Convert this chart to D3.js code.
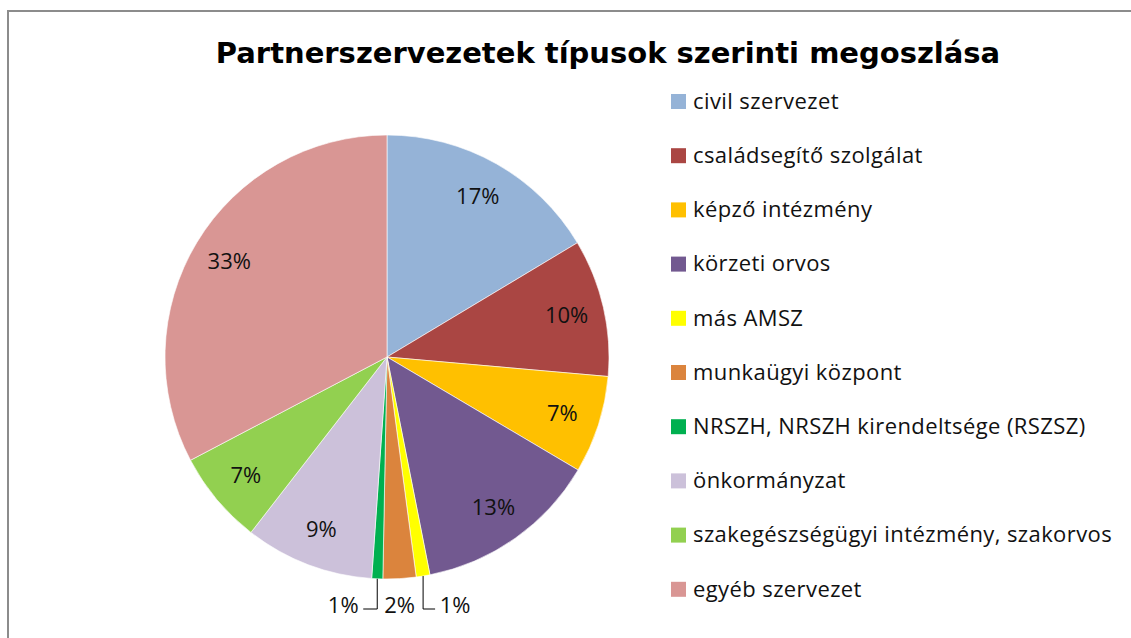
<!DOCTYPE html>
<html>
  <head>
    <meta charset="utf-8" />
    <title>Partnerszervezetek</title>
    <script src="https://cdn.jsdelivr.net/npm/d3@7/dist/d3.min.js"></script>
    <style>
      body { margin: 0; background: #fff; }
      svg { display: block; }
    </style>
  </head>
  <body>
    <script>
      // adatok (százalék)
      const categories = [
        "civil szervezet",
        "családsegítő szolgálat",
        "képző intézmény",
        "körzeti orvos",
        "más AMSZ",
        "munkaügyi központ",
        "NRSZH, NRSZH kirendeltsége (RSZSZ)",
        "önkormányzat",
        "szakegészségügyi intézmény, szakorvos",
        "egyéb szervezet"
      ];
      const values = [16.4, 10.0, 7.1, 13.4, 1.0, 2.4, 0.8, 9.4, 6.8, 32.7];
      const labels = ["17%", "10%", "7%", "13%", "1%", "2%", "1%", "9%", "7%", "33%"];
      const colors = ["#95b3d7", "#aa4643", "#ffc000", "#725990", "#ffff00",
                      "#db843d", "#00b050", "#ccc1da", "#92d050", "#d99694"];
      // kicsi szeletek: címke kívül, eltolással
      const outside = { 4: 32, 5: 0, 6: -34 };

      const w = 1131, h = 638;
      const cx = 387, cy = 357, r = 222;
      const font = "Open Sans";

      const svg = d3.select("body").append("svg")
        .attr("width", w).attr("height", h);

      // keret
      svg.append("path")
        .attr("d", "M8,640 V11 H1140")
        .attr("fill", "none")
        .attr("stroke", "#8c8c8c")
        .attr("stroke-width", 2);

      svg.append("text")
        .attr("x", 608).attr("y", 63)
        .attr("text-anchor", "middle")
        .attr("font-family", "DejaVu Sans")
        .attr("font-weight", "bold")
        .attr("font-size", 29)
        .text("Partnerszervezetek típusok szerinti megoszlása");

      const pie = d3.pie().sort(null).value(d => d)(values);
      const arc = d3.arc().innerRadius(0).outerRadius(r);
      const labelArc = d3.arc().innerRadius(r * 0.83).outerRadius(r * 0.83);

      const g = svg.append("g").attr("transform", `translate(${cx},${cy})`);

      g.selectAll("path.slice")
        .data(pie)
        .enter()
        .append("path")
        .attr("class", "slice")
        .attr("d", arc)
        .attr("fill", (d, i) => colors[i])
        .attr("stroke", "#fff")
        .attr("stroke-width", 0.6);

      g.selectAll("text.lbl")
        .data(pie.filter(d => !(d.index in outside)))
        .enter()
        .append("text")
        .attr("class", "lbl")
        .attr("transform", d => `translate(${labelArc.centroid(d)})`)
        .attr("text-anchor", "middle")
        .attr("dy", "0.35em")
        .attr("font-family", font)
        .attr("font-size", 22)
        .attr("fill", "#111")
        .text(d => labels[d.index]);

      // külső címkék vezetővonallal
      const ly = r + 26;
      pie.filter(d => d.index in outside).forEach(d => {
        const a = (d.startAngle + d.endAngle) / 2;
        const ax = Math.sin(a) * r, ay = -Math.cos(a) * r;
        const off = outside[d.index];
        const tx = ax + off;
        if (off !== 0) {
          const side = off > 0 ? 1 : -1;
          g.append("path")
            .attr("d", `M${ax},${ay} V${ly + 4} H${tx - side * 20}`)
            .attr("fill", "none")
            .attr("stroke", "#000")
            .attr("stroke-width", 1);
        }
        g.append("text")
          .attr("x", tx).attr("y", ly)
          .attr("text-anchor", "middle")
          .attr("dy", "0.35em")
          .attr("font-family", font)
          .attr("font-size", 22)
          .attr("fill", "#111")
          .text(labels[d.index]);
      });

      // jelmagyarázat
      const lg = svg.append("g").attr("transform", "translate(671,101)");
      const rows = lg.selectAll("g")
        .data(categories)
        .enter()
        .append("g")
        .attr("transform", (d, i) => `translate(0,${i * 54.2})`);
      rows.append("rect")
        .attr("x", 0).attr("y", -7)
        .attr("width", 15).attr("height", 15)
        .attr("fill", (d, i) => colors[i]);
      rows.append("text")
        .attr("x", 22).attr("dy", "0.35em")
        .attr("font-family", font)
        .attr("font-size", 22)
        .attr("letter-spacing", 0.4)
        .attr("fill", "#111")
        .text(d => d);
    </script>
  </body>
</html>
